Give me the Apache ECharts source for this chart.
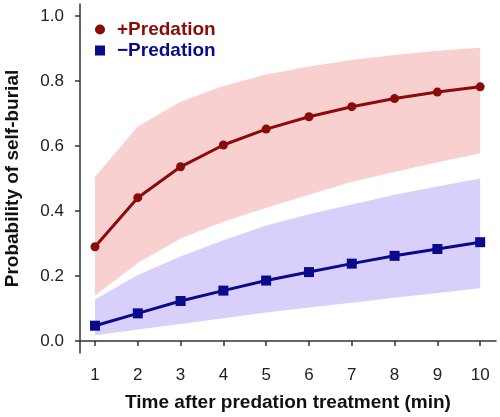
<!DOCTYPE html>
<html><head><meta charset="utf-8">
<script src="https://cdn.jsdelivr.net/npm/echarts@6/dist/echarts.min.js"></script>
<style>html,body{margin:0;padding:0;background:#fff}#c{width:500px;height:417px}</style>
</head><body><div id="c"></div>
<script>
const times = [1,2,3,4,5,6,7,8,9,10];
const predMean  = [0.29,0.441,0.536,0.603,0.652,0.690,0.721,0.746,0.766,0.782];
const predLower = [0.14,0.24,0.315,0.367,0.41,0.45,0.49,0.52,0.55,0.578];
const predUpper = [0.505,0.66,0.736,0.785,0.82,0.845,0.865,0.88,0.893,0.902];
const noPredMean  = [0.047,0.085,0.123,0.155,0.186,0.212,0.238,0.262,0.283,0.304];
const noPredLower = [0.018,0.035,0.052,0.07,0.088,0.103,0.118,0.133,0.148,0.162];
const noPredUpper = [0.128,0.203,0.26,0.31,0.355,0.39,0.42,0.45,0.475,0.5];
const xTicks = [1,2,3,4,5,6,7,8,9,10];
const yTicks = [0,0.2,0.4,0.6,0.8,1.0];

const RED='#8B0A0A', BLUE='#0A0A8B';
const pair = a => a.map((v,i)=>[times[i],v]);
const bandData = (lo,up) => times.map((t,i)=>[t, lo[i], up[i]]);
const font = 'Liberation Sans, Arial, sans-serif';

function bandSeries(lo, up, color){
  return {
    type:'custom', silent:true, z:1,
    data: bandData(lo, up),
    encode:{x:0, y:[1,2]},
    renderItem:(params, api)=>{
      if (params.dataIndex !== 0) return null;
      const pts = [];
      for (let i=0;i<times.length;i++) pts.push(api.coord([times[i], up[i]]));
      for (let i=times.length-1;i>=0;i--) pts.push(api.coord([times[i], lo[i]]));
      return {type:'polygon', shape:{points:pts}, style:{fill:color}};
    }
  };
}

const chart = echarts.init(document.getElementById('c'));
chart.setOption({
  animation:false,
  grid:{left:80, right:4, top:4, bottom:64, containLabel:false, outerBoundsMode:'none'},
  legend:{
    left:90, top:15, orient:'vertical', itemGap:2, itemWidth:10, itemHeight:10,
    textStyle:{fontFamily:font, fontSize:19, fontWeight:'bold', padding:[0,0,0,7]},
    data:[
      {name:'+Predation', icon:'circle', textStyle:{color:RED}},
      {name:'\u2212Predation', icon:'rect', textStyle:{color:BLUE}}
    ]
  },
  xAxis:{
    type:'value', min:0.65, max:10.37,
    name:'Time after predation treatment (min)', nameLocation:'middle', nameGap:40,
    nameTextStyle:{fontFamily:font, fontSize:19, fontWeight:'bold', color:'#111'},
    axisLine:{show:true, lineStyle:{color:'#333', width:1.5}},
    axisTick:{show:true, length:5, customValues:xTicks, lineStyle:{color:'#333', width:1.5}},
    axisLabel:{customValues:xTicks, margin:14, fontFamily:font, fontSize:17, color:'#222'},
    splitLine:{show:false}
  },
  yAxis:{
    type:'value', min:-0.037, max:1.037,
    name:'Probability of self-burial', nameLocation:'middle', nameGap:58,
    nameTextStyle:{fontFamily:font, fontSize:19, fontWeight:'bold', color:'#111'},
    axisLine:{show:true, lineStyle:{color:'#333', width:1.5}},
    axisTick:{show:true, length:5, customValues:yTicks, lineStyle:{color:'#333', width:1.5}},
    axisLabel:{customValues:yTicks, margin:16, fontFamily:font, fontSize:17, color:'#222',
      formatter:v=>v.toFixed(1)},
    splitLine:{show:false}
  },
  series:[
    bandSeries(predLower, predUpper, '#f8d0d0'),
    bandSeries(noPredLower, noPredUpper, '#d8d0fa'),
    {name:'+Predation', type:'line', data:pair(predMean), symbol:'circle', symbolSize:9,
      lineStyle:{color:RED, width:3}, itemStyle:{color:RED}, z:5},
    {name:'\u2212Predation', type:'line', data:pair(noPredMean), symbol:'rect', symbolSize:10,
      lineStyle:{color:BLUE, width:3}, itemStyle:{color:BLUE}, z:5}
  ]
});
</script></body></html>
